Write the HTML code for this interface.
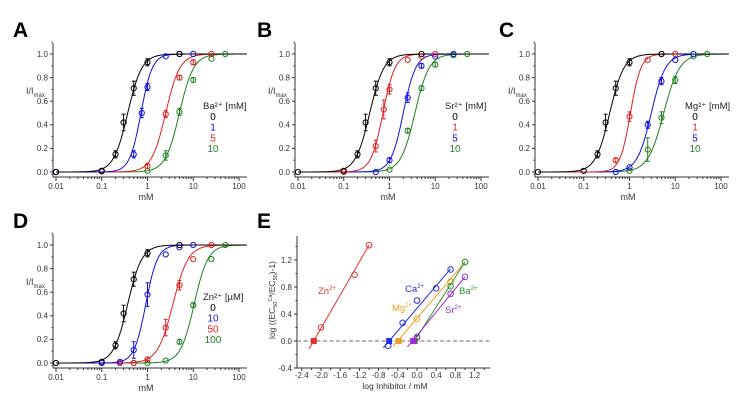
<!DOCTYPE html>
<html><head><meta charset="utf-8"><style>
html,body{margin:0;padding:0;background:#fff;}
svg{display:block;font-family:"Liberation Sans",Arial,sans-serif;}
</style></head><body>
<svg id="fig" width="745" height="408" viewBox="0 0 745 408" xmlns="http://www.w3.org/2000/svg"></svg>
<script>
// ---- Data: dose-response panels (concentrations in mM, response I/Imax)
const concA = [0.01,0.1,0.2,0.3,0.5,1,2.5,5,10,25,50];
const ctrlY = [0,0.01,0.15,0.42,0.71,0.93,null,1.0,null,null,null];
const ctrlErr = [0,0.01,0.03,0.07,0.06,0.03,0,0,0,0,0];

const panelLetters = ['A','B','C','D'];
const legendTitles = ['Ba²⁺ [mM]','Sr²⁺ [mM]','Mg²⁺ [mM]','Zn²⁺ [µM]'];
const legendLabels = [['0','1','5','10'],['0','1','5','10'],['0','1','5','10'],['0','10','50','100']];
const seriesColors = [['#000','#1010e0','#e02020','#208020'],['#000','#e02020','#1010e0','#208020'],['#000','#e02020','#1010e0','#208020'],['#000','#1010e0','#e02020','#208020']];
// EC50 (mM) and Hill slope per series
const ec50s = [[0.37,0.72,2.5,5.0],[0.37,0.72,2.0,3.6],[0.37,1.05,3.0,5.6],[0.37,0.92,3.6,10.5]];
const hills = [[2.8,3.5,2.8,2.8],[2.8,3.3,3.2,2.8],[2.8,3.8,2.8,2.5],[2.8,3.4,2.6,2.9]];
// observed points: [conc, value, err]
const ptsA1 = [[0.01,0,0],[0.1,0.01,0.01],[0.5,0.15,0.03],[0.75,0.5,0.04],[1,0.72,0.03],[2.5,0.98,0.01],[5,1.0,0],[10,1.0,0]];
const ptsA2 = [[0.01,0,0],[0.1,0.005,0.01],[1,0.05,0.02],[2.5,0.49,0.03],[5,0.8,0.02],[10,0.93,0.02],[25,1.0,0]];
const ptsA3 = [[0.01,0,0],[0.1,0.005,0.01],[1,0.01,0.01],[2.5,0.14,0.04],[5,0.51,0.03],[10,0.78,0.02],[25,0.96,0.01],[50,1.0,0]];
const ptsB1 = [[0.1,0.0,0.01],[0.5,0.22,0.05],[0.75,0.53,0.08],[1,0.7,0.04],[2.5,0.95,0.01],[5,0.98,0.01],[10,1.0,0]];
const ptsB2 = [[0.5,0.0,0.01],[1,0.1,0.02],[2.5,0.63,0.04],[5,0.9,0.02],[10,0.98,0.01],[25,1.0,0]];
const ptsB3 = [[1,0.02,0.01],[2.5,0.35,0.02],[5,0.71,0.02],[10,0.91,0.02],[25,0.99,0.01],[50,1.0,0]];
const ptsC1 = [[0.5,0.1,0.02],[1,0.47,0.04],[2.5,0.95,0.01],[5,1.0,0],[10,1.0,0]];
const ptsC2 = [[0.5,0.0,0.01],[1,0.04,0.01],[2.5,0.4,0.03],[5,0.77,0.03],[10,0.95,0.01],[25,1.0,0]];
const ptsC3 = [[1,0.01,0.01],[2.5,0.19,0.1],[5,0.46,0.05],[10,0.78,0.03],[25,0.98,0.01],[50,1.0,0]];
const ptsD1 = [[0.1,0,0.01],[0.25,0.01,0.01],[0.5,0.11,0.07],[1,0.58,0.1],[2.5,0.92,0.01],[5,0.98,0.01],[10,1.0,0]];
const ptsD2 = [[0.25,0,0],[0.5,0,0],[1,0.03,0.02],[2.5,0.3,0.07],[5,0.66,0.04],[10,0.88,0.01],[25,1.0,0]];
const ptsD3 = [[0.5,0,0],[1,0,0],[2.5,0.02,0.01],[5,0.18,0.02],[10,0.49,0.02],[25,0.88,0.01],[50,1.0,0]];
const panelPoints = [[ptsA1,ptsA2,ptsA3],[ptsB1,ptsB2,ptsB3],[ptsC1,ptsC2,ptsC3],[ptsD1,ptsD2,ptsD3]];
const xTicksDR = [0.01,0.1,1,10,100];
const xTickLabelsDR = ['0.01','0.1','1','10','100'];
const yTicksDR = [0,0.2,0.4,0.6,0.8,1.0];

// ---- Data: panel E (Schild plot)
const eNames = ['Zn','Ca','Mg','Ba','Sr'];
const eColors = ['#e83030','#2030e0','#f0a020','#30902a','#9a30c8'];
const eOpenX = [[-2.0,-1.3,-1.0],[-0.6,-0.3,0,0.4,0.7],[0,0.7,1.0],[0,0.7,1.0],[0,0.7,1.0]];
const eOpenY = [[0.2,0.98,1.42],[-0.07,0.27,0.6,0.78,1.06],[0.33,0.88,1.17],[0.06,0.81,1.17],[0.05,0.7,0.95]];
const eFilledX = [-2.15,-0.58,-0.38,-0.05,-0.08];
const eLineX = [[-2.25,-1.0],[-0.7,0.7],[-0.5,1.0],[-0.08,1.0],[-0.2,1.0]];
const eLineY = [[-0.12,1.42],[-0.1,1.07],[-0.08,1.17],[-0.03,1.17],[-0.09,0.95]];
const eXTicks = [-2.4,-2.0,-1.6,-1.2,-0.8,-0.4,0.0,0.4,0.8,1.2];
const eYTicks = [-0.4,0.0,0.4,0.8,1.2];

const svg = document.getElementById('fig');
const NS = 'http://www.w3.org/2000/svg';
function el(tag, attrs, parent){const e=document.createElementNS(NS,tag);for(const k in attrs)e.setAttribute(k,attrs[k]);(parent||svg).appendChild(e);return e;}
function txt(s, attrs, parent){const e=el('text',attrs,parent);e.textContent=s;return e;}

const panelOffsets = [[0,0],[242,0],[482,0],[0,191]];
panelLetters.forEach((L, p) => {
  const ox = panelOffsets[p][0], oy = panelOffsets[p][1];
  const g = el('g', {});
  
  
  const sx = c => ox + 56 + (Math.log10(c) + 2) * 45.75;
  const sy = v => oy + 172 - v * 118;
  const lt = txt(L, {x: ox + 13 + (p==1?2:p==2?4:0), y: oy + 37, 'font-size': 21, 'font-weight': 'bold'}, g);
  
  
  const ax = el('path', {d: `M${ox+53},${oy+43}V${oy+177}H${ox+247}`, stroke:'#333', fill:'none', 'stroke-width':1}, g);
  
  
  yTicksDR.forEach(v => {
    el('line', {x1: ox+50, x2: ox+53, y1: sy(v), y2: sy(v), stroke:'#333'}, g);
    el('line', {x1: ox+51.5, x2: ox+53, y1: sy(v+0.1), y2: sy(v+0.1), stroke:'#333'}, g);
    const t = txt(v.toFixed(1), {x: ox+48, y: sy(v)+2.8, 'font-size': 8, 'text-anchor':'end', fill:'#333'}, g);
    
    
  });
  el('line', {x1: ox+51.5, x2: ox+53, y1: sy(-0.02), y2: sy(-0.02), stroke:'#333'}, g);
  xTicksDR.forEach((c, i) => {
    el('line', {x1: sx(c), x2: sx(c), y1: oy+177, y2: oy+181, stroke:'#333'}, g);
    if (i < 4) for (let m = 2; m <= 9; m++) el('line', {x1: sx(c*m), x2: sx(c*m), y1: oy+177, y2: oy+179, stroke:'#333'}, g);
    const t = txt(xTickLabelsDR[i], {x: sx(c), y: oy+189, 'font-size': 8, 'text-anchor':'middle', fill:'#333'}, g);
    
    
  });
  const xl = txt('mM', {x: ox+146, y: oy+200, 'font-size': 9, 'text-anchor':'middle', fill:'#333'}, g);
  
  
  const yl = el('text', {x: ox+26, y: oy+94, 'font-size': 9, fill:'#333'}, g);
  yl.innerHTML = 'I/I<tspan font-size="6" dy="3">max</tspan>';
  
  
  for (let s = 3; s >= 0; s--) {
    let d = '';
    for (let k = 0; k <= 200; k++) {
      const lc = -2 + k * 4.17 / 200, c = Math.pow(10, lc);
      const v = 1 / (1 + Math.pow(ec50s[p][s] / c, hills[p][s]));
      d += (k ? 'L' : 'M') + sx(c).toFixed(1) + ',' + sy(v).toFixed(1);
    }
    const cv = el('path', {d, stroke: seriesColors[p][s], fill:'none', 'stroke-width': 1}, g);
    
    
  }
  const drawPts = (pts, col) => pts.forEach(q => {
    const x = sx(q[0]), y = sy(q[1]);
    if (q[2] > 0.015) {
      el('line', {x1: x, x2: x, y1: sy(q[1]+q[2]), y2: sy(q[1]-q[2]), stroke: col, 'stroke-width': 1}, g);
      el('line', {x1: x-2, x2: x+2, y1: sy(q[1]+q[2]), y2: sy(q[1]+q[2]), stroke: col}, g);
      el('line', {x1: x-2, x2: x+2, y1: sy(q[1]-q[2]), y2: sy(q[1]-q[2]), stroke: col}, g);
    }
    const c = el('circle', {cx: x, cy: y, r: 2.6, fill:'none', stroke: col, 'stroke-width': 1}, g);
    
    
  });
  for (let s = 3; s >= 1; s--) drawPts(panelPoints[p][s-1], seriesColors[p][s]);
  drawPts(concA.map((c, i) => [c, ctrlY[i], ctrlErr[i]]).filter(q => q[1] !== null), '#000');
  const lg = el('g', {}, g);
  
  
  txt(legendTitles[p], {x: ox+203, y: oy+109, 'font-size': 9.5, fill:'#222'}, lg);
  legendLabels[p].forEach((s, i) => {
    const t = txt(s, {x: ox+213, y: oy+120 + i*10.7, 'font-size': 10, 'text-anchor':'middle', fill: seriesColors[p][i]}, lg);
    
    
  });
});

// ---- Panel E
(function(){
  const g = el('g', {});
  
  
  const ex = v => 417 + v * 48;
  const ey = v => 341 - v * 67.5;
  const lt = txt('E', {x: 257, y: 228, 'font-size': 21, 'font-weight': 'bold'}, g);
  
  
  const ax = el('path', {d: `M297,236V368H490`, stroke:'#333', fill:'none'}, g);
  
  
  eYTicks.forEach(v => {
    el('line', {x1: 294, x2: 297, y1: ey(v), y2: ey(v), stroke:'#333'}, g);
    el('line', {x1: 295.5, x2: 297, y1: ey(v+0.2), y2: ey(v+0.2), stroke:'#333'}, g);
    const t = txt(v.toFixed(1), {x: 292, y: ey(v)+2.8, 'font-size': 8, 'text-anchor':'end', fill:'#333'}, g);
    
    
  });
  eXTicks.forEach(v => {
    el('line', {x1: ex(v), x2: ex(v), y1: 368, y2: 371, stroke:'#333'}, g);
    el('line', {x1: ex(v+0.2), x2: ex(v+0.2), y1: 368, y2: 370, stroke:'#333'}, g);
    const t = txt(v.toFixed(1), {x: ex(v), y: 378, 'font-size': 8, 'text-anchor':'middle', fill:'#333'}, g);
    
    
  });
  const xl = txt('log Inhibitor / mM', {x: 395, y: 389, 'font-size': 8.5, 'text-anchor':'middle', fill:'#333'}, g);
  
  
  const yl = el('text', {transform: 'translate(275,300) rotate(-90)', 'font-size': 8.5, 'text-anchor':'middle', fill:'#333'}, g);
  yl.innerHTML = 'log ((EC<tspan font-size="5.5" dy="2">50</tspan><tspan font-size="5.5" dy="-5">Ca</tspan><tspan dy="3">/EC</tspan><tspan font-size="5.5" dy="2">50</tspan><tspan dy="-2">)-1)</tspan>';
  
  
  const dl = el('line', {x1: 297, x2: 490, y1: ey(0), y2: ey(0), stroke:'#888', 'stroke-width': 1.3, 'stroke-dasharray': '4,2.5'}, g);
  
  
  eNames.forEach((n, i) => {
    const col = eColors[i];
    const ln = el('line', {x1: ex(eLineX[i][0]), y1: ey(eLineY[i][0]), x2: ex(eLineX[i][1]), y2: ey(eLineY[i][1]), stroke: col, 'stroke-width': 1}, g);
    
    
    eOpenX[i].forEach((x, k) => {
      const c = el('circle', {cx: ex(x), cy: ey(eOpenY[i][k]), r: 2.8, fill:'none', stroke: col}, g);
      
      
    });
    const f = el('rect', {x: ex(eFilledX[i])-3, y: ey(0)-3, width: 6, height: 6, fill: col}, g);
    
    
  });
  const labs = [['Zn',318,294],['Ca',405,292],['Mg',392,311],['Ba',459,294],['Sr',445,313]];
  labs.forEach((l, i) => {
    const t = el('text', {x: l[1], y: l[2], 'font-size': 9.5, fill: eColors[i]}, g);
    t.innerHTML = l[0] + '<tspan font-size="6" dy="-4">2+</tspan>';
    
    
  });
})();
</script>
</body></html>
